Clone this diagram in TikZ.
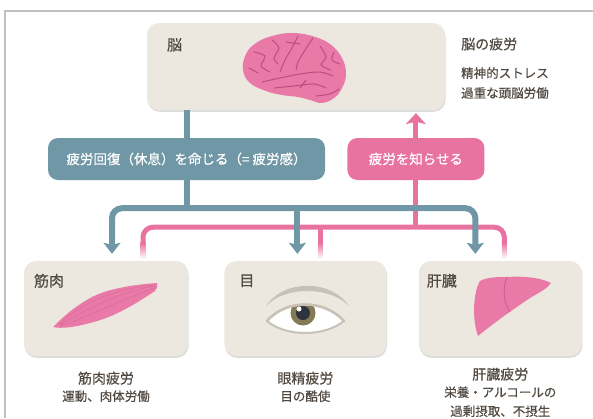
\documentclass[tikz,border=0pt]{standalone}
\usepackage{fontspec}
\setmainfont{Noto Sans CJK JP}[FakeBold=0.5]
\usepackage{xcolor}
\usetikzlibrary{arrows.meta, positioning, calc, shadows}
\definecolor{organbox}{RGB}{236,231,223}
\definecolor{rest}{RGB}{111,151,166}
\definecolor{alert}{RGB}{232,115,160}
\definecolor{ink}{RGB}{82,74,66}
\definecolor{tissue}{RGB}{233,122,168}
\definecolor{tissueline}{RGB}{186,78,128}
\definecolor{framegray}{RGB}{192,192,192}
\definecolor{browgray}{RGB}{200,193,183}
\definecolor{iris}{RGB}{133,122,86}
\definecolor{pupil}{RGB}{45,52,62}

\begin{document}
\begin{tikzpicture}[
    x=1pt, y=-1pt,
    organ/.style={fill=organbox, rounded corners=12pt, inner sep=0pt,
        drop shadow={shadow xshift=0.6pt, shadow yshift=-1.8pt, opacity=0.3, fill=black!45}},
    pill/.style={rounded corners=10pt, text=white, inner sep=0pt, minimum height=42pt,
        font=\fontsize{13.5}{15}\selectfont},
    organlabel/.style={anchor=west, text=ink, inner sep=0pt, font=\fontsize{15}{17}\selectfont},
    heading/.style={text=ink, inner sep=0pt, font=\fontsize{14}{16}\selectfont},
    detail/.style={text=ink, inner sep=0pt, font=\fontsize{12.5}{14}\selectfont},
    restline/.style={draw=rest, line width=6pt},
    alertline/.style={draw=alert, line width=5pt},
    restarrow/.tip={Stealth[width=17pt, length=11pt, inset=2pt]},
    alertarrow/.tip={Stealth[width=20pt, length=11pt, inset=2.5pt]}
]
\useasboundingbox (0,0) rectangle (593,418);
\draw[framegray, line width=1.5pt] (5,418) -- (5,11) -- (593,11);

% boxes
\node[organ, minimum width=298pt, minimum height=87pt] (brainbox) at (296,66.5) {};
\node[organ, minimum width=164pt, minimum height=95pt] (musclebox) at (106,308.5) {};
\node[organ, minimum width=162pt, minimum height=95pt, right=36pt of musclebox] (eyebox) {};
\node[organ, minimum width=163pt, minimum height=95pt, right=32pt of eyebox] (liverbox) {};

\node[pill, fill=rest, minimum width=277pt] (restbox) at (186.5,159) {疲労回復（休息）を命じる（= 疲労感）};
\node[pill, fill=alert, minimum width=137pt, right=22pt of restbox] (alertbox) {疲労を知らせる};

\node[organlabel] (brainlabel) at ($(brainbox.north west)+(20,22)$) {脳};
\node[organlabel] (musclelabel) at ($(musclebox.north west)+(10,20)$) {筋肉};
\node[organlabel] (eyelabel) at ($(eyebox.north west)+(15,20)$) {目};
\node[organlabel] (liverlabel) at ($(liverbox.north west)+(8,20)$) {肝臓};

% texts beside and under the boxes
\node[heading, anchor=west] (braincap) at (461,44) {脳の疲労};
\node[detail, anchor=west] (braincause) at (461,73) {精神的ストレス};
\node[detail, anchor=west] at (461,93) {過重な頭脳労働};

\node[heading] (musclecap) at ($(musclebox.south)+(0,22)$) {筋肉疲労};
\node[detail] at ($(musclecap)+(0,18)$) {運動、肉体労働};
\node[heading] (eyecap) at ($(eyebox.south)+(0,22)$) {眼精疲労};
\node[detail] at ($(eyecap)+(0,18)$) {目の酷使};
\node[heading] (livercap) at ($(liverbox.south)+(0,18)$) {肝臓疲労};
\node[detail] (livercause) at ($(livercap)+(0,18)$) {栄養・アルコールの};
\node[detail] at ($(livercause)+(0,19)$) {過剰摂取、不摂生};

% pink: organs report fatigue to the brain
\coordinate (alertbus) at ($(alertbox.south)+(0,47)$);
\coordinate (alertL) at ($(musclebox.north)+(37,-18)$);
\coordinate (alertM) at ($(eyebox.north)+(15,-18)$);
\coordinate (alertR) at ($(liverbox.north)+(4,-18)$);
\draw[alertline, rounded corners=10pt] (alertL) |- (alertbus) -| (alertR);
\draw[alertline] (alertbus -| alertM) -- (alertM);
\draw[alertline] (alertbox.south) -- (alertbus);
\draw[alertline, -{alertarrow}, shorten >=3pt] (alertbox.north) -- (brainbox.south -| alertbox.north);
\foreach \c in {alertL, alertM, alertR}
    \shade[top color=alert, bottom color=white] ($(\c)+(-2.5,0)$) rectangle ($(\c)+(2.5,16)$);

% teal: brain orders rest
\coordinate (restbus) at ($(restbox.south)+(0,28)$);
\coordinate (restL) at ($(musclebox.north)+(6,-7)$);
\coordinate (restM) at ($(eyebox.north)+(-8,-7)$);
\coordinate (restR) at ($(liverbox.north)+(-25,-7)$);
\draw[restline] (brainbox.south -| restbox.north) -- (restbox.north);
\draw[restline] (restbox.south) -- (restbus);
\draw[restline, rounded corners=10pt, {restarrow}-{restarrow}] (restL) |- (restbus) -| (restR);
\draw[restline, -{restarrow}] (restbus -| restM) -- (restM);

% brain
\fill[tissue] plot[smooth cycle, tension=0.7] coordinates {(243,70) (246,54) (256,43) (272,36) (292,33) (312,36) (330,44) (342,58) (346,74) (342,88) (334,98) (322,103) (310,100) (298,97) (282,95) (266,91) (250,83)};
\begin{scope}[tissueline, line width=1pt, line cap=round]
\draw plot[smooth] coordinates {(298,36) (292,48) (285,60) (280,72)};
\draw plot[smooth] coordinates {(262,82) (280,78) (300,74) (320,72) (333,76)};
\draw plot[smooth] coordinates {(313,38) (305,50) (298,62) (296,70)};
\draw plot[smooth] coordinates {(254,52) (265,56) (261,66) (270,72)};
\draw plot[smooth] coordinates {(272,40) (279,48) (274,58) (278,64)};
\draw plot[smooth] coordinates {(320,46) (326,57) (321,65) (331,70)};
\draw plot[smooth] coordinates {(274,88) (294,86) (314,84) (326,88)};
\draw plot[smooth] coordinates {(316,96) (330,94) (339,89)};
\draw plot[smooth] coordinates {(249,68) (258,73)};
\draw plot[smooth] coordinates {(340,64) (332,60) (334,52)};
\draw plot[smooth] coordinates {(286,42) (300,44)};
\draw plot[smooth] coordinates {(306,80) (300,88)};
\end{scope}

% muscle
\fill[tissue] (53,327) .. controls (70,310) and (90,294) .. (115,289)
    .. controls (132,285) and (145,284) .. (157,283)
    .. controls (158,286) and (157,289) .. (155,291)
    .. controls (135,304) and (115,317) .. (90,323)
    .. controls (75,327) and (62,329) .. cycle;
\begin{scope}[tissueline, line width=0.5pt, opacity=0.35]
\draw (60,325) .. controls (85,310) and (120,292) .. (154,286);
\draw (60,326) .. controls (90,316) and (125,298) .. (155,288);
\draw (60,324) .. controls (80,304) and (110,290) .. (153,285);
\end{scope}

% eye
\fill[browgray] (266,306) .. controls (284,279) and (331,279) .. (349,306)
    .. controls (330,286) and (285,286) .. cycle;
\path[fill=white, draw=browgray, line width=2pt] (267,321) .. controls (286,299) and (324,299) .. (344,321)
    .. controls (324,337) and (286,337) .. cycle;
\begin{scope}
\clip (267,321) .. controls (286,299) and (324,299) .. (344,321)
    .. controls (324,337) and (286,337) .. cycle;
\fill[iris] (303,313) circle[radius=12.5];
\fill[pupil] (303,313) circle[radius=7];
\fill[white] (299,309) circle[radius=2.5];
\end{scope}
\draw[browgray, line width=2.5pt] (267,321) .. controls (286,299) and (324,299) .. (344,321);

% liver
\fill[tissue] (480,281) .. controls (473,292) and (472,320) .. (478,336)
    .. controls (495,322) and (515,308) .. (530,298)
    .. controls (540,292) and (548,288) .. (551,283)
    .. controls (540,277) and (520,276) .. (507,277)
    .. controls (498,277) and (487,277) .. cycle;
\draw[tissueline, line width=0.8pt, opacity=0.7] (507,277) .. controls (502,290) and (504,303) .. (510,312);
\end{tikzpicture}
\end{document}
